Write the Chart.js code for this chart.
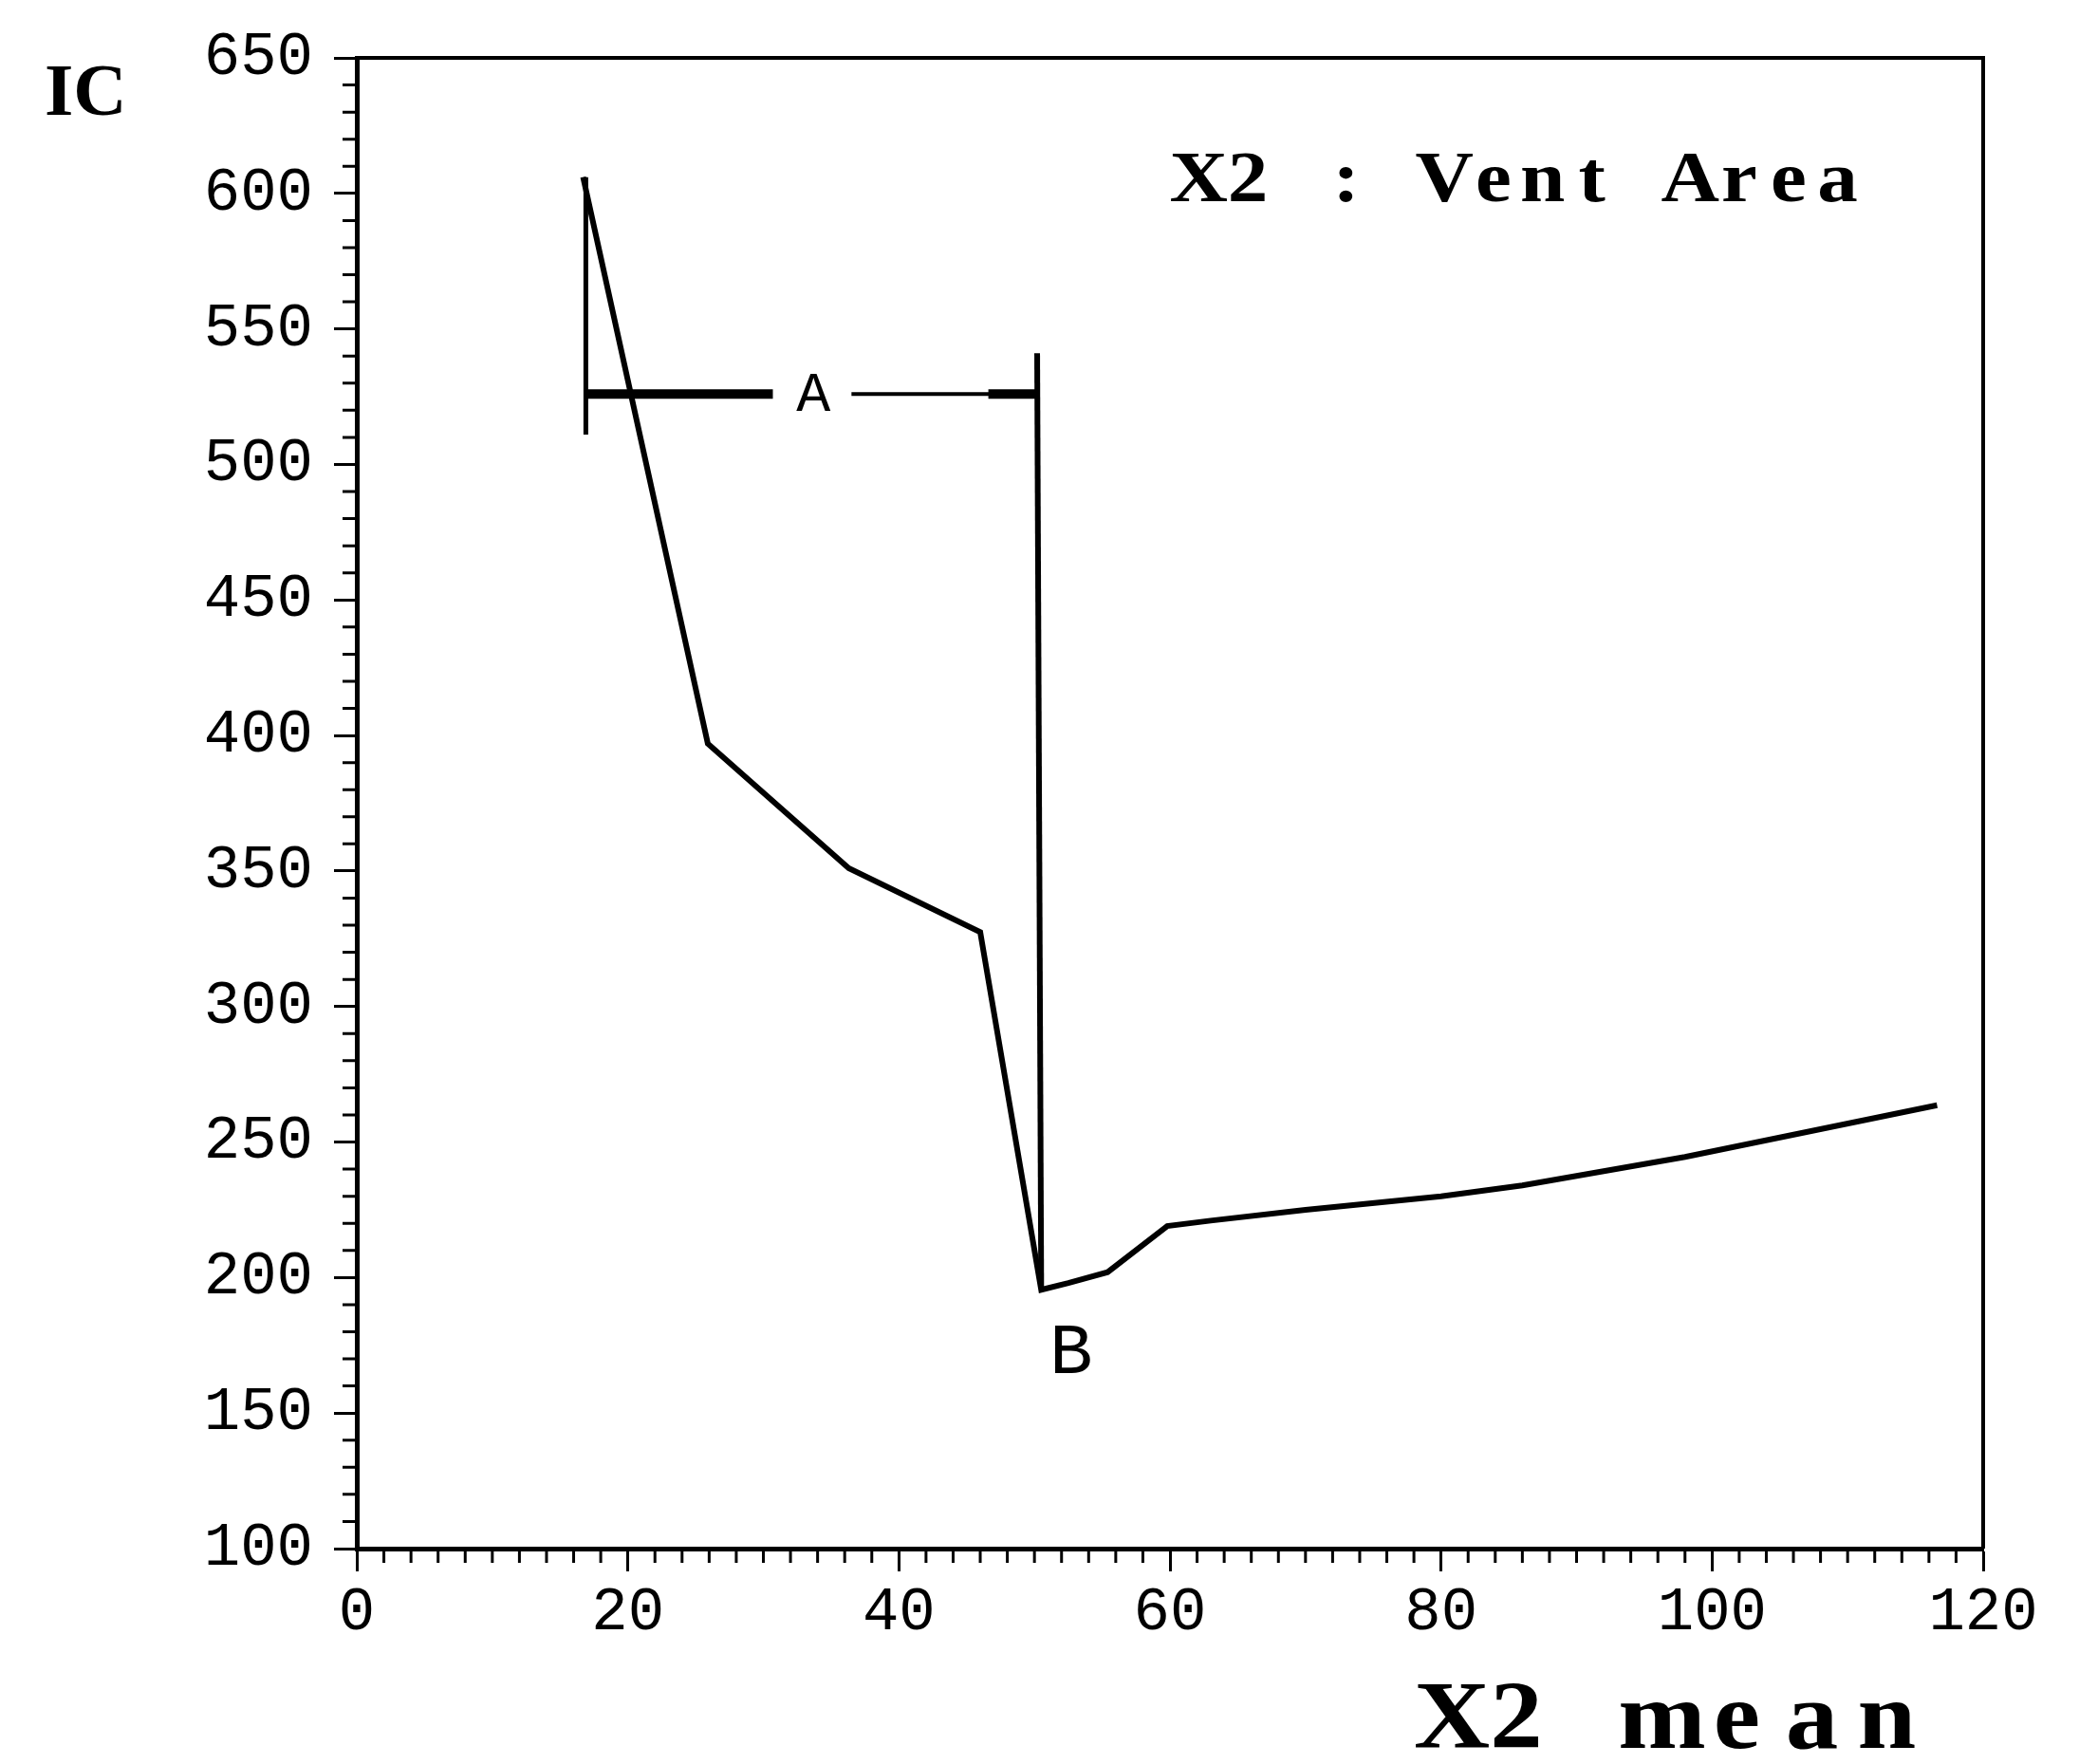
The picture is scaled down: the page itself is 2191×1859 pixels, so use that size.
<!DOCTYPE html>
<html><head><meta charset="utf-8">
<script src="https://cdn.jsdelivr.net/npm/chart.js@4.4.1/dist/chart.umd.min.js"></script>
<style>html,body{margin:0;padding:0;background:#fff;} #wrap{width:2191px;height:1859px;position:relative;}</style>
</head><body><div id="wrap"><canvas id="c" width="2191" height="1859"></canvas></div>
<script>
// ---- data ----
const xMeanValues = [16.7, 25.9, 36.3, 46.0, 50.5, 52.5, 55.4, 59.8, 63.0, 70.0, 80.0, 86.0, 98.0, 116.6];
const icValues    = [606, 397, 351, 327.5, 195.5, 198, 202, 219, 221, 225, 230, 234, 244.5, 263.6];

const xTickLabels = [0, 20, 40, 60, 80, 100, 120];
const yTickLabels = [100, 150, 200, 250, 300, 350, 400, 450, 500, 550, 600, 650];

// annotation "A" bracket and vertical mark (data coordinates)
const bracketLeftX  = [16.9, 16.9];  const bracketLeftY  = [606, 511];
const bracketThickX = [16.9, 30.7];  const bracketThickY = [526, 526];
const bracketThinX  = [36.5, 50.2];  const bracketThinY  = [526, 526];
const bracketEndX   = [46.6, 50.2];  const bracketEndY   = [526, 526];
const markLineX     = [50.2, 50.5];  const markLineY     = [541, 196];

const textLabels = ['A', 'B'];
const textLabelX = [33.7, 52.7];
const textLabelY = [526, 172.6];

const legendText = 'X2 : Vent Area';
const legendAt = [60.3, 597.3];
const yTitle = 'IC';
const xTitleWords = ['X2', 'mean'];

// ---- helpers ----
const pts = (xs, ys) => xs.map((x, i) => ({x: x, y: ys[i]}));
const seg = (xs, ys, w) => ({data: pts(xs, ys), showLine: true, borderColor: '#000', borderWidth: w,
  pointRadius: 0, fill: false, tension: 0, borderCapStyle: 'butt', borderJoinStyle: 'miter'});

const TICK_FONT = {family: 'Liberation Mono', size: 64, weight: 'normal'};

function monoText(ctx, text, left, baseline, adv, sx) {
  ctx.textAlign = 'center';
  ctx.textBaseline = 'alphabetic';
  for (let i = 0; i < text.length; i++) {
    ctx.save();
    ctx.translate(left + adv * i + adv / 2, baseline);
    ctx.scale(sx, 1);
    ctx.fillText(text[i], 0, 0);
    ctx.restore();
  }
}

const decor = {
  id: 'decor',
  afterDraw(chart) {
    const ctx = chart.ctx, a = chart.chartArea;
    const xs = chart.scales.x, ys = chart.scales.y;
    ctx.save();
    ctx.strokeStyle = '#000';
    ctx.fillStyle = '#000';
    // frame top + right
    ctx.lineWidth = 4;
    ctx.beginPath();
    ctx.moveTo(a.left, a.top); ctx.lineTo(a.right, a.top); ctx.lineTo(a.right, a.bottom);
    ctx.stroke();
    // minor ticks
    ctx.lineWidth = 3;
    ctx.beginPath();
    for (let v = 2; v < 120; v += 2) {
      if (v % 20 === 0) continue;
      const px = xs.getPixelForValue(v);
      ctx.moveTo(px, a.bottom); ctx.lineTo(px, a.bottom + 15);
    }
    for (let v = 110; v < 650; v += 10) {
      if (v % 50 === 0) continue;
      const py = ys.getPixelForValue(v);
      ctx.moveTo(a.left, py); ctx.lineTo(a.left - 15, py);
    }
    ctx.stroke();
    // A / B labels
    ctx.textAlign = 'center'; ctx.textBaseline = 'middle';
    ctx.font = 'normal 60px "Liberation Mono"';
    ctx.fillText(textLabels[0], xs.getPixelForValue(textLabelX[0]), ys.getPixelForValue(textLabelY[0]) + 2);
    ctx.font = 'normal 76px "Liberation Mono"';
    ctx.fillText(textLabels[1], xs.getPixelForValue(textLabelX[1]), ys.getPixelForValue(textLabelY[1]) + 2);
    // legend text (monospaced cells, serif glyphs)
    ctx.font = 'bold 76px "Liberation Serif"';
    monoText(ctx, legendText, xs.getPixelForValue(legendAt[0]), ys.getPixelForValue(legendAt[1]), 51.8, 1.12);
    // y title
    ctx.font = 'bold 78px "Liberation Serif"';
    ctx.textAlign = 'left'; ctx.textBaseline = 'alphabetic';
    ctx.fillText(yTitle, 47, 121);
    // x title
    ctx.font = 'bold 101px "Liberation Serif"';
    monoText(ctx, xTitleWords[0], 1496, 1842, 68, 1.1);
    monoText(ctx, xTitleWords[1], 1712, 1842, 79, 1.1);
    ctx.restore();
  }
};

new Chart(document.getElementById('c'), {
  type: 'scatter',
  data: {
    datasets: [
      seg(xMeanValues, icValues, 6),
      seg(bracketLeftX, bracketLeftY, 5),
      seg(bracketThickX, bracketThickY, 10),
      seg(bracketThinX, bracketThinY, 4),
      seg(bracketEndX, bracketEndY, 10),
      seg(markLineX, markLineY, 6)
    ]
  },
  options: {
    responsive: false,
    animation: false,
    layout: {padding: {top: 61, right: 101, left: 0, bottom: 0}},
    plugins: {legend: {display: false}, tooltip: {enabled: false}},
    scales: {
      x: {
        type: 'linear', min: 0, max: 120,
        afterFit(s) { s.height = 227; },
        afterBuildTicks(s) { s.ticks = xTickLabels.map(v => ({value: v})); },
        ticks: {stepSize: 20, color: '#000', font: TICK_FONT, padding: 6, maxRotation: 0, autoSkip: false},
        grid: {display: true, drawOnChartArea: false, drawTicks: true, tickLength: 24, tickWidth: 3, tickColor: '#000', color: '#000'},
        border: {display: true, color: '#000', width: 5}
      },
      y: {
        type: 'linear', min: 100, max: 650,
        afterFit(s) { s.width = 376; },
        afterBuildTicks(s) { s.ticks = yTickLabels.map(v => ({value: v})); },
        ticks: {stepSize: 50, color: '#000', font: TICK_FONT, padding: 22, autoSkip: false},
        grid: {display: true, drawOnChartArea: false, drawTicks: true, tickLength: 24, tickWidth: 3, tickColor: '#000', color: '#000'},
        border: {display: true, color: '#000', width: 5}
      }
    }
  },
  plugins: [decor]
});
</script></body></html>
